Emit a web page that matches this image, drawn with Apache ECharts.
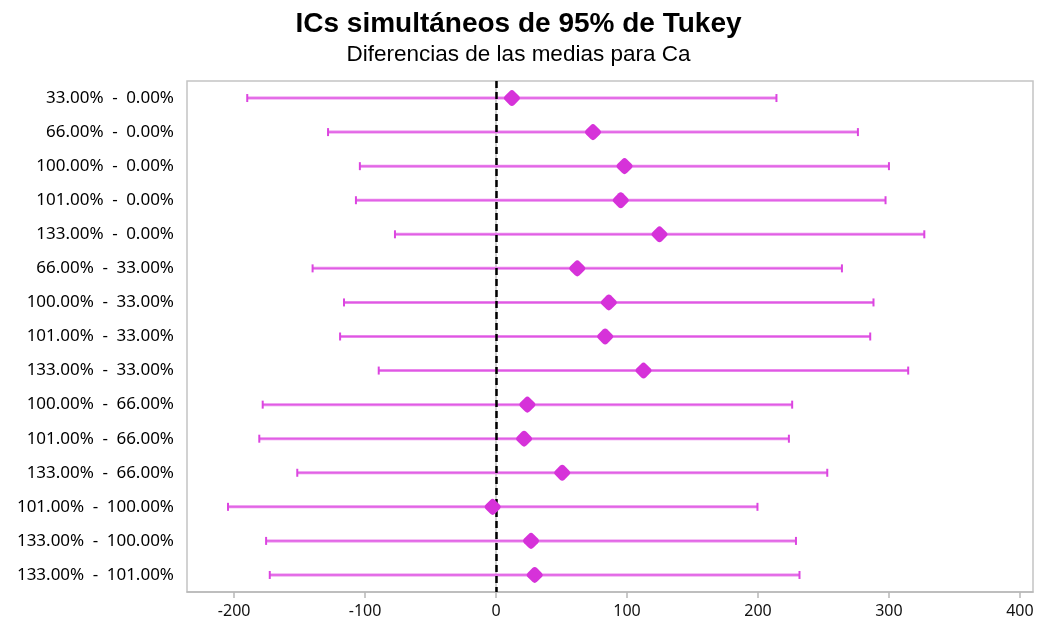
<!DOCTYPE html>
<html><head><meta charset="utf-8">
<script src="https://cdn.jsdelivr.net/npm/echarts@6/dist/echarts.min.js"></script>
<style>html,body{margin:0;padding:0;background:#fff}#c{width:1037px;height:625px}</style>
</head><body><div id="c"></div><script>
const categories = ["33.00% - 0.00%","66.00% - 0.00%","100.00% - 0.00%","101.00% - 0.00%","133.00% - 0.00%","66.00% - 33.00%","100.00% - 33.00%","101.00% - 33.00%","133.00% - 33.00%","100.00% - 66.00%","101.00% - 66.00%","133.00% - 66.00%","101.00% - 100.00%","133.00% - 100.00%","133.00% - 101.00%"];
const means  = [12.1, 74.0, 98.1, 95.2, 124.8, 62.0, 86.1, 83.3, 112.6, 23.9, 21.4, 50.5, -2.6, 26.7, 29.5];
const lowers = [-190.0, -128.3, -104.0, -107.0, -77.2, -140.1, -116.1, -119.1, -89.6, -178.2, -180.8, -151.8, -204.7, -175.6, -172.8];
const uppers = [214.1, 276.3, 300.0, 297.4, 327.0, 264.1, 288.2, 285.7, 314.7, 226.1, 223.6, 252.9, 199.6, 229.0, 231.7];
const xTicks = [-200, -100, 0, 100, 200, 300, 400];
const xMin = -236, xMax = 410;

const chart = echarts.init(document.getElementById('c'));
chart.setOption({
  animation: false,
  backgroundColor: '#fff',
  title: [
    {text: 'ICs simultáneos de 95% de Tukey', left: 'center', top: 5,
     textStyle: {fontFamily: 'Liberation Sans', fontSize: 28, fontWeight: 'bold', color: '#000'}},
    {text: 'Diferencias de las medias para Ca', left: 'center', top: 38,
     textStyle: {fontFamily: 'Liberation Sans', fontSize: 22.5, fontWeight: 'normal', color: '#000'}}
  ],
  grid: {left: 187, top: 81, right: 4, bottom: 33, show: true, borderColor: '#c4c4c4', borderWidth: 1.5, containLabel: false},
  xAxis: {
    type: 'value', min: xMin, max: xMax,
    axisLine: {show: true, lineStyle: {color: '#b8b8b8', width: 1.5}},
    axisTick: {show: true, length: 6, customValues: xTicks, lineStyle: {color: '#b8b8b8', width: 1.5}},
    axisLabel: {customValues: xTicks, fontFamily: 'Noto Sans', fontSize: 16, color: '#111', margin: 11},
    splitLine: {show: false}
  },
  yAxis: {
    type: 'category', data: categories, inverse: true,
    axisLine: {show: true, lineStyle: {color: '#c4c4c4', width: 1.5}},
    axisTick: {show: true, alignWithLabel: true, length: 6, lineStyle: {color: '#b8b8b8', width: 1.5}},
    axisLabel: {fontFamily: 'Noto Sans', fontSize: 17, color: '#000', margin: 13,
      formatter: v => v.replace(' - ', '\u2002-\u2002')},
    splitLine: {show: false}
  },
  series: [
    {
      type: 'custom',
      data: lowers.map((l, i) => [l, uppers[i], i]),
      encode: {x: [0, 1], y: 2},
      renderItem: function (params, api) {
        const y = api.value(2);
        const p1 = api.coord([api.value(0), y]);
        const p2 = api.coord([api.value(1), y]);
        const h = 4;
        return {type: 'group', children: [
          {type: 'line', shape: {x1: p1[0], y1: p1[1], x2: p2[0], y2: p2[1]}, style: {stroke: '#e987ec', lineWidth: 3}},
          {type: 'line', shape: {x1: p1[0], y1: p1[1], x2: p2[0], y2: p2[1]}, style: {stroke: '#df55e3', lineWidth: 1}},
          {type: 'line', shape: {x1: p1[0], y1: p1[1] - h, x2: p1[0], y2: p1[1] + h}, style: {stroke: '#dc45e0', lineWidth: 2}},
          {type: 'line', shape: {x1: p2[0], y1: p2[1] - h, x2: p2[0], y2: p2[1] + h}, style: {stroke: '#dc45e0', lineWidth: 2}}
        ]};
      },
      z: 2
    },
    {
      type: 'scatter',
      data: means.map((m, i) => [m, i]),
      symbol: 'roundRect', symbolSize: 13, symbolRotate: 45,
      itemStyle: {color: '#d632d9', opacity: 1},
      z: 4,
      markLine: {
        silent: true, symbol: 'none', label: {show: false},
        lineStyle: {color: '#000', type: [7, 4], width: 2.5},
        data: [{xAxis: 0}],
        z: 3
      }
    }
  ]
});
</script></body></html>
